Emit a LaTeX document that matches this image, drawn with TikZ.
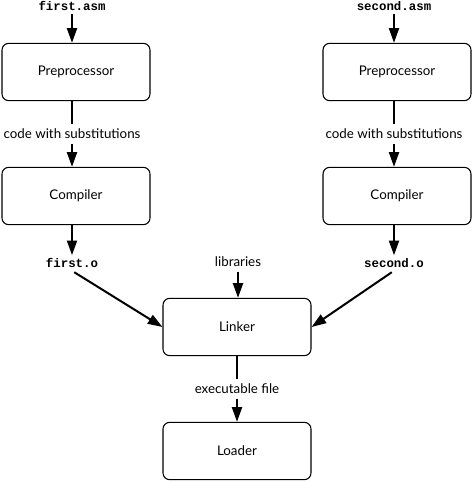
\documentclass[tikz,border=0pt]{standalone}
\usepackage{fontspec}
\setmainfont{Lato}
\newfontfamily\codefont{Liberation Mono}
\usetikzlibrary{arrows.meta}

\tikzset{every picture/.style={line width=0.75pt}}

\begin{document}
\begin{tikzpicture}[x=0.75pt,y=0.75pt,yscale=-1,xscale=1,
	stage/.style={draw, line width=0.8pt, rounded corners=5pt, minimum width=111pt, minimum height=43pt, font=\fontsize{10}{12}\selectfont},
	fname/.style={font=\codefont\bfseries\fontsize{9.3}{11}\selectfont, inner sep=2pt},
	flow/.style={font=\fontsize{10}{12}\selectfont, inner sep=3.3pt},
	feed/.style={line width=1.5pt, -{Triangle[length=11pt,width=7.5pt]}},
	wire/.style={line width=1.5pt}]
	\useasboundingbox (0,0) rectangle (474,482);

	%Shape: Boxes
	\node[stage] (pre1) at (76,72) {Preprocessor};
	\node[stage] (comp1) at (76,196) {Compiler};
	\node[stage] (pre2) at (397,72) {Preprocessor};
	\node[stage] (comp2) at (397,196) {Compiler};
	\node[stage] (link) at (237,327) {Linker};
	\node[stage] (load) at (237,451) {Loader};

	% Text Node
	\node[fname] (asm1) at (72,6) {first.asm};
	% Text Node
	\node[fname] (asm2) at (394,6) {second.asm};
	% Text Node
	\node[flow] (sub1) at (72,134) {code with substitutions};
	% Text Node
	\node[flow] (sub2) at (394,134) {code with substitutions};
	% Text Node
	\node[fname] (obj1) at (72,263) {first.o};
	% Text Node
	\node[fname] (obj2) at (394,263) {second.o};
	% Text Node
	\node[flow] (lib) at (238,262) {libraries};
	% Text Node
	\node[flow] (exe) at (237,389) {executable file};

	%Straight Lines
	\draw[feed] (asm1) -- (asm1 |- pre1.north);
	\draw[wire] (pre1.south -| sub1) -- (sub1);
	\draw[feed] (sub1) -- (sub1 |- comp1.north);
	\draw[feed] (comp1.south -| obj1) -- (obj1);
	\draw[feed, shorten <=2pt] (obj1.south) -- (link.west);

	\draw[feed] (asm2) -- (asm2 |- pre2.north);
	\draw[wire] (pre2.south -| sub2) -- (sub2);
	\draw[feed] (sub2) -- (sub2 |- comp2.north);
	\draw[feed] (comp2.south -| obj2) -- (obj2);
	\draw[feed, shorten <=2pt] (obj2.south) -- (link.east);

	\draw[feed] (lib) -- (lib |- link.north);
	\draw[wire] (link) -- (exe);
	\draw[feed] (exe) -- (load);
\end{tikzpicture}
\end{document}
